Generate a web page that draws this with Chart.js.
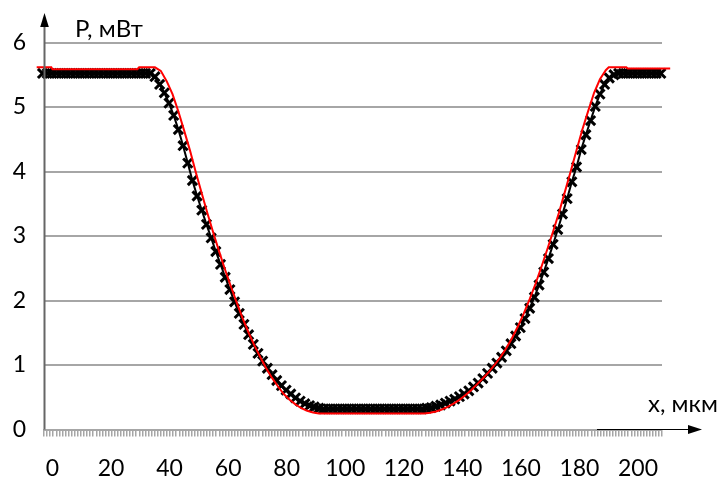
<!DOCTYPE html>
<html>
<head>
<meta charset="utf-8">
<script src="https://cdn.jsdelivr.net/npm/chart.js@4.4.0/dist/chart.umd.min.js"></script>
<style>
  html, body { margin: 0; padding: 0; background: #fff; }
</style>
</head>
<body>
<canvas id="chart" width="726" height="479"></canvas>
<script>
// tick labels
const xTickLabels = [0, 20, 40, 60, 80, 100, 120, 140, 160, 180, 200];
const yTickLabels = [0, 1, 2, 3, 4, 5, 6];

// measured profile (black crosses), x in мкм, P in мВт
const measuredX = [
  -3.4, -1.8, -0.2, 1.4, 3.0, 4.6, 6.2, 7.8, 9.4, 11.0, 12.6, 14.2, 15.8, 17.4, 19.0, 20.6, 22.2, 23.8, 25.4, 27.0, 28.6, 30.2, 31.8,
  33.4, 35.0, 36.6, 38.2, 39.8, 41.4, 43.0, 44.6, 46.2, 47.8, 49.4, 51.0, 52.6, 54.2, 55.8, 57.4, 59.0, 60.6, 62.2, 63.8, 65.4,
  67.0, 68.6, 70.2, 71.8, 73.4, 75.0, 76.6, 78.2, 79.8, 81.4, 83.0, 84.6, 86.2, 87.8, 89.4, 91.0, 92.6,
  94.2, 95.8, 97.4, 99.0, 100.6, 102.2, 103.8, 105.4, 107.0, 108.6, 110.2, 111.8, 113.4, 115.0, 116.6, 118.2, 119.8, 121.4, 123.0, 124.6, 126.2,
  127.8, 129.4, 131.0, 132.6, 134.2, 135.8, 137.4, 139.0, 140.6, 142.2, 143.8, 145.4, 147.0, 148.6, 150.2, 151.8, 153.4, 155.0, 156.6,
  158.2, 159.8, 161.4, 163.0, 164.6, 166.2, 167.8, 169.4, 171.0, 172.6, 174.2, 175.8, 177.4, 179.0, 180.6, 182.2, 183.8, 185.4, 187.0,
  188.6, 190.2, 191.8, 193.4,
  195.0, 196.6, 198.2, 199.8, 201.4, 203.0, 204.6, 206.2, 207.8
];
const measuredP = [
  5.52, 5.52, 5.52, 5.52, 5.52, 5.52, 5.52, 5.52, 5.52, 5.52, 5.52, 5.52, 5.52, 5.52, 5.52, 5.52, 5.52, 5.52, 5.52, 5.52, 5.52, 5.52, 5.52,
  5.52, 5.47, 5.35, 5.22, 5.06, 4.87, 4.65, 4.40, 4.13, 3.86, 3.62, 3.40, 3.18, 2.97, 2.76, 2.56, 2.36, 2.17, 1.98, 1.80, 1.63,
  1.47, 1.32, 1.18, 1.06, 0.95, 0.85, 0.76, 0.68, 0.61, 0.55, 0.49, 0.44, 0.40, 0.37, 0.35, 0.33, 0.32,
  0.32, 0.32, 0.32, 0.32, 0.32, 0.32, 0.32, 0.32, 0.32, 0.32, 0.32, 0.32, 0.32, 0.32, 0.32, 0.32, 0.32, 0.32, 0.32, 0.32, 0.32,
  0.33, 0.34, 0.36, 0.38, 0.41, 0.44, 0.47, 0.51, 0.55, 0.60, 0.66, 0.72, 0.79, 0.87, 0.95, 1.03, 1.12, 1.22, 1.33,
  1.45, 1.58, 1.72, 1.88, 2.05, 2.24, 2.44, 2.65, 2.87, 3.10, 3.34, 3.58, 3.84, 4.07, 4.34, 4.57, 4.79, 5.01, 5.20,
  5.35, 5.45, 5.50, 5.52,
  5.52, 5.52, 5.52, 5.52, 5.52, 5.52, 5.52, 5.52, 5.52
];

// model curve (red line)
const modelX = [
  -5.4, -0.4, 0, 29, 29.6, 35,
  37, 39, 41, 43, 45, 47, 49, 51, 53, 55, 57, 59, 61, 63, 65, 67, 69, 71, 73, 75, 77, 79, 81, 83, 85, 87, 89, 91,
  127,
  129, 131, 133, 135, 137, 139, 141, 143, 145, 147, 149, 151, 153, 155, 157, 159, 161, 163, 165, 167, 169, 171, 173, 175, 177, 179, 181, 183, 185, 187, 189,
  190, 196, 196.5, 211
];
const modelP = [
  5.615, 5.615, 5.585, 5.585, 5.615, 5.615,
  5.56, 5.40, 5.20, 4.93, 4.63, 4.32, 3.98, 3.66, 3.34, 3.04, 2.75, 2.47, 2.21, 1.96, 1.72, 1.50, 1.30, 1.12, 0.95, 0.80, 0.67, 0.55, 0.46, 0.39, 0.33, 0.29, 0.265, 0.25,
  0.25,
  0.26, 0.28, 0.31, 0.35, 0.40, 0.46, 0.53, 0.61, 0.70, 0.79, 0.89, 1.00, 1.12, 1.26, 1.42, 1.60, 1.80, 2.02, 2.26, 2.52, 2.79, 3.07, 3.36, 3.68, 4.00, 4.33, 4.65, 4.94, 5.22, 5.43, 5.57,
  5.615, 5.615, 5.595, 5.595
];

const FONT_FAMILY = 'Lato, "Open Sans", sans-serif';
const GRID_GRAY = '#a6a6a6';

// axis arrows and axis titles
const axisDecor = {
  id: 'axisDecor',
  afterDraw(chart) {
    const { ctx, chartArea } = chart;
    const y0 = chart.scales.y.getPixelForValue(0);
    const ax = chartArea.left + 0.5;
    ctx.save();

    ctx.strokeStyle = '#666';
    ctx.lineWidth = 2;
    ctx.beginPath();
    ctx.moveTo(ax, y0);
    ctx.lineTo(ax, 26);
    ctx.stroke();
    ctx.fillStyle = '#000';
    ctx.beginPath();
    ctx.moveTo(ax, 13);
    ctx.lineTo(ax - 4.3, 27);
    ctx.lineTo(ax + 4.3, 27);
    ctx.closePath();
    ctx.fill();

    ctx.strokeStyle = '#000';
    ctx.lineWidth = 1.2;
    ctx.beginPath();
    ctx.moveTo(597, y0);
    ctx.lineTo(690, y0);
    ctx.stroke();
    ctx.beginPath();
    ctx.moveTo(702, y0);
    ctx.lineTo(688, y0 - 4.5);
    ctx.lineTo(688, y0 + 4.5);
    ctx.closePath();
    ctx.fill();

    ctx.font = '24px ' + FONT_FAMILY;
    ctx.textBaseline = 'alphabetic';
    ctx.textAlign = 'left';
    ctx.fillText('P, мВт', 75, 37);
    ctx.fillText('x, мкм', 648, 412);
    ctx.restore();
  }
};

new Chart(document.getElementById('chart'), {
  type: 'line',
  data: {
    datasets: [
      {
        label: 'model',
        xAxisID: 'x',
        yAxisID: 'y',
        data: modelX.map((x, i) => ({ x, y: modelP[i] })),
        borderColor: '#ff0000',
        borderWidth: 2,
        pointRadius: 0,
        tension: 0,
        clip: false
      },
      {
        label: 'measured',
        xAxisID: 'x',
        yAxisID: 'y',
        data: measuredX.map((x, i) => ({ x, y: measuredP[i] })),
        borderColor: '#000',
        backgroundColor: '#000',
        borderWidth: 2,
        pointStyle: 'crossRot',
        pointRadius: 6.5,
        pointBorderWidth: 3,
        tension: 0,
        clip: false
      }
    ]
  },
  options: {
    responsive: false,
    animation: false,
    events: [],
    layout: { padding: { top: 42.5, right: 64, bottom: 0, left: 0 } },
    plugins: { legend: { display: false }, tooltip: { enabled: false } },
    scales: {
      x: {
        type: 'linear',
        position: 'bottom',
        weight: 1,
        min: -2.9,
        max: 208.2,
        afterBuildTicks: s => { s.ticks = xTickLabels.map(v => ({ value: v })); },
        afterFit: s => { s.height = 42.5; },
        ticks: {
          padding: 20.5,
          autoSkip: false,
          maxRotation: 0,
          color: '#000',
          font: { family: FONT_FAMILY, size: 23, lineHeight: 1 },
          callback: v => String(v)
        },
        grid: { display: false, drawTicks: false },
        border: { display: false }
      },
      xt: {
        type: 'linear',
        position: 'bottom',
        weight: 0,
        min: 0,
        max: 201,
        afterFit: s => { s.height = 7; },
        ticks: { display: false, stepSize: 1, autoSkip: false, maxTicksLimit: 400 },
        grid: { drawOnChartArea: false, drawTicks: true, tickLength: 7, color: GRID_GRAY, lineWidth: 1.5 },
        border: { display: true, color: GRID_GRAY, width: 2 }
      },
      y: {
        type: 'linear',
        min: 0,
        max: 6,
        afterBuildTicks: s => { s.ticks = yTickLabels.map(v => ({ value: v })); },
        afterFit: s => { s.width = 44; },
        ticks: {
          padding: 18,
          color: '#000',
          font: { family: FONT_FAMILY, size: 23, lineHeight: 1 },
          callback: v => String(v)
        },
        grid: { color: GRID_GRAY, lineWidth: 2, drawTicks: false },
        border: { display: false }
      }
    }
  },
  plugins: [axisDecor]
});
</script>
</body>
</html>
